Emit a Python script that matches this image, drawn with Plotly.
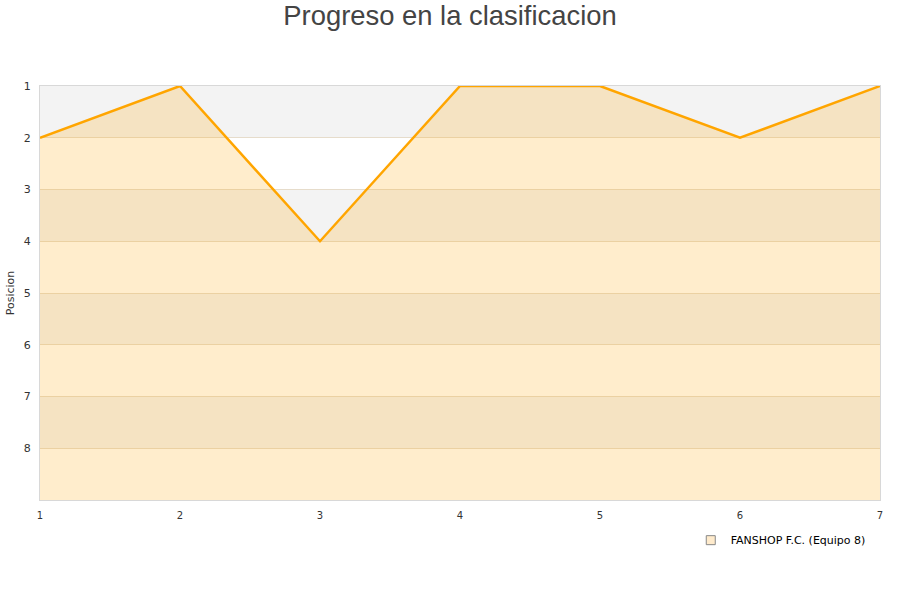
import plotly.graph_objects as go

jornadas = [1, 2, 3, 4, 5, 6, 7]
posiciones = [2, 1, 4, 1, 1, 2, 1]
team_name = "FANSHOP F.C. (Equipo 8)"
y_ticks = [1, 2, 3, 4, 5, 6, 7, 8]
y_bottom = 9

fig = go.Figure()

# bands
shapes = []
for lo in [1, 3, 5, 7]:
    shapes.append(dict(type="rect", xref="paper", yref="y", x0=0, x1=1, y0=lo, y1=lo + 1,
                       fillcolor="#f3f3f3", line=dict(width=0), layer="below"))

fig.add_trace(go.Scatter(x=jornadas, y=[y_bottom] * len(jornadas), mode="lines",
                         line=dict(width=0, color="rgba(0,0,0,0)"), showlegend=False, hoverinfo="skip"))
fig.add_trace(go.Scatter(x=jornadas, y=posiciones, mode="lines", fill="tonexty",
                         fillcolor="rgba(255,165,0,0.2)", line=dict(color="#ffa500", width=2.5),
                         showlegend=False, name=team_name))
fig.add_trace(go.Scatter(x=[None], y=[None], mode="markers", name=team_name,
                         marker=dict(symbol="square", size=9, color="#ffebcc",
                                     line=dict(color="#888888", width=1))))

fig.update_layout(
    width=900, height=600,
    title=dict(text="Progreso en la clasificacion", x=0.5, xanchor="center", y=0.975, yanchor="middle",
               font=dict(size=27.4, color="#444444", family="Liberation Sans, Arial")),
    margin=dict(l=40, r=20, t=86, b=100, autoexpand=False),
    plot_bgcolor="white", paper_bgcolor="white",
    shapes=shapes,
    font=dict(family="DejaVu Sans", size=11, color="#333333"),
    legend=dict(x=0.989, xanchor="right", y=-0.097, yanchor="middle", bgcolor="rgba(0,0,0,0)",
                font=dict(size=11, color="#000000")),
    showlegend=True,
)
fig.update_xaxes(range=[1, 7], tickvals=jornadas, showgrid=False, zeroline=False, automargin=False,
                 showline=True, linecolor="#d8d8d8", linewidth=1, mirror=True,
                 ticks="", ticklabelstandoff=6, tickfont=dict(size=10, color="#333333"))
fig.update_yaxes(range=[y_bottom, 1], tickvals=y_ticks, showgrid=True, gridcolor="#e6dccb",
                 zeroline=False, showline=True, linecolor="#d8d8d8", linewidth=1, mirror=True,
                 automargin=False,
                 title=dict(text="Posicion", font=dict(size=11, color="#333333"), standoff=6),
                 ticks="", ticklabelstandoff=6, tickfont=dict(size=11, color="#333333"))

fig.write_html("out.html", config={"displayModeBar": False},
               post_script="document.body.style.margin='0';document.body.style.overflow='hidden';")
